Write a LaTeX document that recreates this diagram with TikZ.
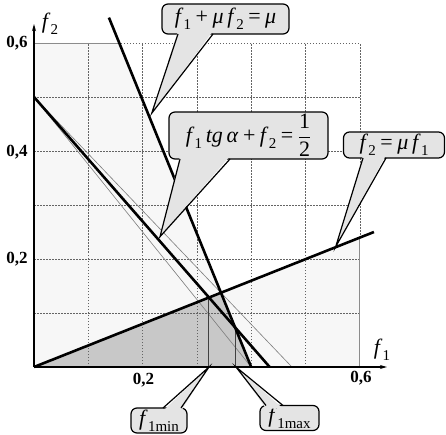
\documentclass[tikz,border=0pt]{standalone}
\usepackage{fontspec}
\setmainfont{Liberation Serif}
\usetikzlibrary{arrows.meta}
\definecolor{lightbg}{RGB}{247,247,247}
\definecolor{darkbg}{RGB}{200,200,200}
\definecolor{callbg}{RGB}{228,228,228}
\definecolor{gridc}{RGB}{100,100,100}
\definecolor{thinc}{RGB}{125,125,125}
\definecolor{borderc}{RGB}{140,140,140}
\newcommand{\sbs}[1]{\raisebox{-0.28em}{\fontsize{15}{15}\selectfont #1}}
\newcommand{\ff}[1]{\textit{f}\kern0.3pt\sbs{#1}}
\newcommand{\gapsp}{\hspace{4.5pt}}
\tikzset{
  callbox/.style={draw=black, line width=1.2pt, fill=callbg, rounded corners=6pt, inner sep=0pt, font=\fontsize{22}{22}\selectfont},
  wedgeline/.style={draw=black, line width=1.2pt, line join=miter},
  thickline/.style={draw=black, line width=2.6pt},
  thinline/.style={draw=thinc, line width=0.6pt},
  gridline/.style={draw=gridc, line width=0.5pt, dash pattern=on 1.5pt off 1.5pt},
  borderline/.style={draw=borderc, line width=0.8pt},
  markline/.style={draw=black!75, line width=1.1pt},
  ticklabel/.style={font=\fontsize{17}{17}\selectfont\bfseries, inner sep=0pt},
  axislabel/.style={font=\fontsize{22}{22}\selectfont, inner sep=0pt},
  axisline/.style={draw=black, line width=1.6pt, -{Stealth[length=7pt,width=4pt]}},
}
\begin{document}
\begin{tikzpicture}[x=1pt,y=-1pt]
\useasboundingbox (0,0) rectangle (446,435);
\begin{scope}[shift={(34,367)}, x=543pt, y=540pt]
  \coordinate (O) at (0,0);
  \coordinate (Y06) at (0,0.6);
  \coordinate (X06) at (0.6,0);
  \coordinate (C66) at (0.6,0.6);
  \coordinate (A) at (0,0.5);
  \coordinate (S1) at (0.138,0.647);
  \coordinate (S0) at (0.4,0);
  \coordinate (M1) at (0.626,0.25);
  \coordinate (P) at (0.345,0.138);
  \coordinate (Q) at (0.16,0.6);
  \coordinate (R) at (0.6,0.24);
  \coordinate (AE) at (0.434,0);
  \coordinate (T1) at (0.4,0);
  \coordinate (T2) at (0.475,0);
  \coordinate (Fmin) at (0.322,0);
  \coordinate (FminT) at (0.322,0.129);
  \coordinate (Fmax) at (0.371,0);
  \coordinate (FmaxT) at (0.371,0.073);
  \coordinate (YE) at (0,0.635);
  \coordinate (XE) at (0.65,0);
  % fills
  \fill[lightbg] (O) -- (Y06) -- (Q) -- (P) -- (R) -- (X06) -- cycle;
  \fill[darkbg] (O) -- (P) -- (S0) -- cycle;
  % grid
  \foreach \i in {1,...,5} {
    \draw[gridline] (0.1*\i,0) -- (0.1*\i,0.6);
    \draw[gridline] (0,0.1*\i) -- (0.6,0.1*\i);
  }
  \draw[gridline] (Q) -- (C66) -- (R);
  \draw[borderline] (Y06) -- (Q);
  \draw[borderline] (X06) -- (R);
  % thin lines
  \draw[thinline] (A) -- (T1);
  \draw[thinline] (A) -- (T2);
  % markers
  \draw[markline] (Fmin) -- (FminT);
  \draw[markline] (Fmax) -- (FmaxT);
  % thick lines
  \draw[thickline] (A) -- (AE);
  \draw[thickline] (S1) -- (S0);
  \draw[thickline] (O) -- (M1);
  % axes
  \draw[axisline] (O) -- (XE);
  \draw[axisline] (O) -- (YE);
\end{scope}
% labels
\node[axislabel] (lf2) at (50,24) {\ff{2}};
\node[axislabel] (lf1) at (382,350) {\ff{1}};
\node[ticklabel] (y6) at (17,43) {0,6};
\node[ticklabel] (y4) at (17,152) {0,4};
\node[ticklabel] (y2) at (17,259) {0,2};
\node[ticklabel] (x2) at (143.5,380) {0,2};
\node[ticklabel] (x6) at (361,378) {0,6};
% callouts
\node[callbox, minimum width=127pt, minimum height=30pt] (c1) at (225.5,19) {\ff{1}\gapsp+\gapsp\textit{μ}\,\ff{2}\gapsp=\gapsp\textit{μ}};
\coordinate (t1) at (151.7,113.3);
\fill[callbg] (178,31) -- (t1) -- (213,31) -- cycle;
\draw[wedgeline] (178,34) -- (t1) -- (213,34);

\node[callbox, minimum width=159pt, minimum height=47pt] (c2) at (248.5,135.5) {\ff{1}\,\textit{tg}\,\textit{α}\gapsp+\gapsp\ff{2}\gapsp=\gapsp$\displaystyle\frac{\mbox{1}}{\mbox{2}}$};
\coordinate (t2) at (160,236.7);
\fill[callbg] (180,156) -- (t2) -- (230,156) -- cycle;
\draw[wedgeline] (180,159) -- (t2) -- (230,159);

\node[callbox, minimum width=101pt, minimum height=26pt] (c3) at (394,145) {\ff{2}\gapsp=\gapsp\textit{μ}\,\ff{1}};
\coordinate (t3) at (335.7,246.7);
\fill[callbg] (363,155) -- (t3) -- (386,155) -- cycle;
\draw[wedgeline] (363,158) -- (t3) -- (386,158);

\node[callbox, minimum width=56pt, minimum height=25pt] (c4) at (159,420.5) {\ff{1min}};
\coordinate (t4) at (209,367);
\fill[callbg] (163,411) -- (t4) -- (181,411) -- cycle;
\draw[wedgeline] (163,408) -- (t4) -- (181,408);

\node[callbox, minimum width=59pt, minimum height=25pt] (c5) at (289.5,418) {\ff{1max}};
\coordinate (t5) at (236,367);
\fill[callbg] (266,408.5) -- (t5) -- (283,408.5) -- cycle;
\draw[wedgeline] (266,405.5) -- (t5) -- (283,405.5);
\end{tikzpicture}
\end{document}
